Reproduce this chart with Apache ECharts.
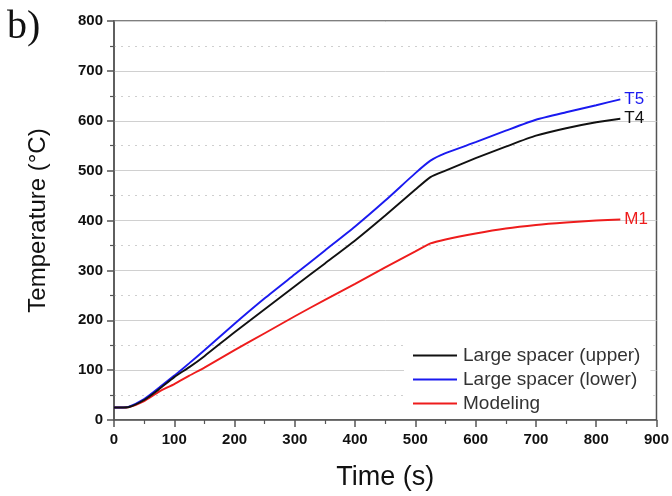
<!DOCTYPE html>
<html>
<head>
<meta charset="utf-8">
<script src="https://cdn.jsdelivr.net/npm/echarts@6/dist/echarts.min.js"></script>
<style>
  html, body { margin: 0; padding: 0; background: #fff; }
  #chart { width: 672px; height: 496px; }
</style>
</head>
<body>
<div id="chart"></div>
<script>
// Time axis samples (s) shared by all three curves
const times = [0, 10, 25, 50, 75, 100, 125, 150, 200, 250, 300, 350, 400, 450, 500, 525, 550, 600, 650, 700, 750, 800, 840];

// Measured temperature, large spacer (upper) – T4
const upperT4 = [25, 25, 26, 40, 62, 86, 106, 128, 176, 222, 268, 314, 360, 410, 462, 487, 500, 525, 548, 570, 585, 597, 604];
// Measured temperature, large spacer (lower) – T5
const lowerT5 = [25, 25, 27, 42, 65, 89, 114, 140, 193, 244, 292, 340, 388, 440, 495, 520, 535, 557, 580, 602, 617, 631, 643];
// Modeling result – M1
const modelM1 = [25, 25, 26, 38, 57, 72, 89, 105, 140, 174, 208, 241, 273, 306, 338, 354, 362, 374, 384, 391, 396, 400, 402];

const seriesNames = ['Large spacer (upper)', 'Large spacer (lower)', 'Modeling'];
const endTags = ['T4', 'T5', 'M1'];
const colors = ['#111111', '#1a1af0', '#ee1c1c'];
const values = [upperT4, lowerT5, modelM1];

const xTicks = [0, 900, 100];
const yTicks = [0, 800, 100];

const FONT = 'Liberation Sans, Arial, sans-serif';
const chart = echarts.init(document.getElementById('chart'));

const series = values.map((vals, i) => ({
  name: seriesNames[i],
  type: 'line',
  data: times.map((t, k) => [t, vals[k]]),
  showSymbol: false,
  symbol: 'none',
  smooth: 0.2,
  lineStyle: { color: colors[i], width: 1.9 },
  itemStyle: { color: colors[i] },
  z: 5 - i,
  endLabel: {
    show: true,
    formatter: endTags[i],
    color: colors[i],
    fontFamily: FONT,
    fontSize: 17,
    distance: 4
  }
}));

chart.setOption({
  animation: false,
  backgroundColor: '#fff',
  grid: {
    left: 114, right: 14, top: 21, bottom: 75,
    show: true, borderColor: '#555', borderWidth: 1.5, backgroundColor: 'transparent'
  },
  legend: {
    data: seriesNames,
    orient: 'vertical',
    left: 404, top: 342,
    padding: [4, 10, 6, 9],
    backgroundColor: '#fff',
    itemWidth: 44, itemHeight: 2,
    itemGap: 5,
    icon: 'rect',
    textStyle: { fontFamily: FONT, fontSize: 19, lineHeight: 19, color: '#333', padding: [0, 0, 0, 1] }
  },
  xAxis: {
    type: 'value',
    min: xTicks[0], max: xTicks[1], interval: xTicks[2],
    name: 'Time (s)',
    nameLocation: 'middle',
    nameGap: 44,
    nameTextStyle: { fontFamily: FONT, fontSize: 27, color: '#111' },
    axisLine: { show: true, lineStyle: { color: '#555', width: 1.5 } },
    axisTick: { show: true, inside: false, length: 7, lineStyle: { color: '#555', width: 1.5 } },
    minorTick: { show: true, splitNumber: 2, length: 4, lineStyle: { color: '#555', width: 1.2 } },
    axisLabel: { fontFamily: FONT, fontWeight: 'bold', fontSize: 15, color: '#111', margin: 12 },
    splitLine: { show: false }
  },
  yAxis: {
    type: 'value',
    min: yTicks[0], max: yTicks[1], interval: yTicks[2],
    name: 'Temperature (°C)',
    nameLocation: 'middle',
    nameGap: 64,
    nameTextStyle: { fontFamily: FONT, fontSize: 24, color: '#111' },
    axisLine: { show: true, lineStyle: { color: '#555', width: 1.5 } },
    axisTick: { show: true, inside: false, length: 7, lineStyle: { color: '#555', width: 1.5 } },
    minorTick: { show: true, splitNumber: 2, length: 4, lineStyle: { color: '#555', width: 1.2 } },
    axisLabel: { fontFamily: FONT, fontWeight: 'bold', fontSize: 15, color: '#111', margin: 11 },
    splitLine: { show: true, lineStyle: { color: '#d0d0d0', width: 1 } },
    minorSplitLine: { show: true, lineStyle: { color: '#cfcfcf', width: 1, type: [2, 5] } }
  },
  graphic: [{
    type: 'text',
    left: 7, top: 7,
    style: { text: 'b)', fontFamily: 'Liberation Serif, Times New Roman, serif', fontSize: 40, fill: '#111' }
  }],
  series: series
});
</script>
</body>
</html>
